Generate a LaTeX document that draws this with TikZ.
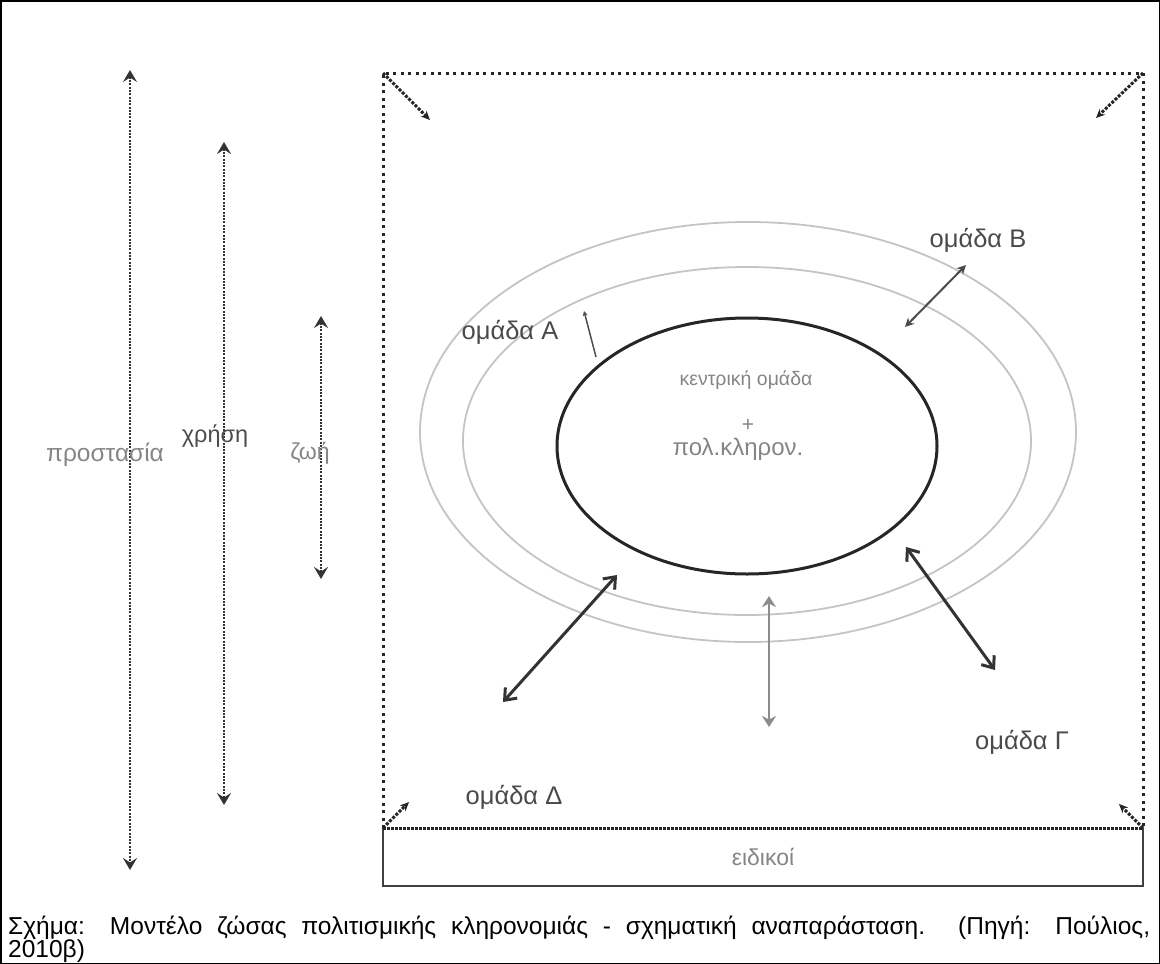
\documentclass[tikz,border=0pt]{standalone}
\usepackage{fontspec}
\setmainfont{Liberation Sans}
\usetikzlibrary{arrows.meta}
\definecolor{txtgray}{HTML}{858585}
\definecolor{txtdark}{HTML}{4A4A4A}
\definecolor{ringgray}{HTML}{C4C4C4}
\begin{document}
\begin{tikzpicture}[x=1pt,y=-1pt,
  frameline/.style={line width=3pt,dash pattern=on 3pt off 4.5pt,black!85},
  baseline/.style={line width=3pt,dash pattern=on 2.5pt off 1.5pt,black!85},
  cornerarrow/.style={line width=3pt,dash pattern=on 3pt off 1.5pt,black!85,-{Stealth[length=9pt,width=8pt]}},
  vertarrow/.style={line width=2.6pt,dash pattern=on 2pt off 1.3pt,black!80,{Stealth[length=12pt,width=14pt,inset=4.5pt]}-{Stealth[length=12pt,width=14pt,inset=4.5pt]}},
  thickarrow/.style={line width=3pt,black!80,{Straight Barb[length=10pt,width=16pt,line width=3pt]}-{Straight Barb[length=10pt,width=16pt,line width=3pt]}},
  thinarrow/.style={line width=2pt,black!70,{Stealth[length=9pt,width=9pt]}-{Stealth[length=9pt,width=9pt]}},
  grayarrow/.style={line width=2.8pt,black!45,{Stealth[length=11pt,width=14pt,inset=3.5pt]}-{Stealth[length=11pt,width=14pt,inset=3.5pt]}},
  lbl/.style={inner sep=0pt,font=\fontsize{25.5}{28}\selectfont,text=txtdark},
  glbl/.style={inner sep=0pt,text=txtgray},
  captxt/.style={anchor=base west,inner sep=0pt,font=\fontsize{24.5}{26}\selectfont}
]
\useasboundingbox (0,0) rectangle (1160,964);
% outer frame
\draw[line width=1.5pt] (0.75,0.75) rectangle (1159.25,963.25);

% dotted square
\coordinate (TL) at (383,73);
\coordinate (TR) at (1143,73);
\coordinate (BL) at (383,828);
\coordinate (BR) at (1143,828);
\draw[frameline] (BL) -- (TL) -- (TR) -- (BR);

% experts box
\draw[line width=2pt,black!75] (BL) -- (383,886) -- (1143,886) -- (BR);
\draw[baseline] (BL) -- (BR);
\node[glbl,font=\fontsize{23}{26}\selectfont] (eid) at (763,857) {ειδικοί};

% corner arrows
\coordinate (tla) at (430,120);
\coordinate (tra) at (1096,118);
\coordinate (bla) at (409,802);
\coordinate (bra) at (1119,804);
\draw[cornerarrow] (TL) -- (tla);
\draw[cornerarrow] (TR) -- (tra);
\draw[cornerarrow] (BL) -- (bla);
\draw[cornerarrow] (BR) -- (bra);

% left vertical arrows
\coordinate (p1) at (130,70);  \coordinate (p2) at (130,870);
\coordinate (c1) at (224,142); \coordinate (c2) at (224,805);
\coordinate (z1) at (321,316); \coordinate (z2) at (321,579);
\draw[vertarrow] (p1) -- (p2);
\draw[vertarrow] (c1) -- (c2);
\draw[vertarrow] (z1) -- (z2);
\node[glbl,font=\fontsize{24.5}{27}\selectfont] (prost) at (105,455) {προστασία};
\node[glbl,font=\fontsize{23.5}{26}\selectfont,text=black!70] (xrisi) at (215,436) {χρήση};
\node[glbl,font=\fontsize{23}{26}\selectfont] (zoi) at (310,453) {ζωή};

% ellipses
\draw[ringgray,line width=1.8pt] (748,432) ellipse [x radius=328,y radius=210];
\draw[ringgray,line width=1.8pt] (747,441) ellipse [x radius=284,y radius=174];
\draw[black!85,line width=3pt] (747,446) ellipse [x radius=190,y radius=128];

% centre texts
\node[glbl,font=\fontsize{19.5}{22}\selectfont] (kentr) at (746,380) {κεντρική ομάδα};
\node[glbl,font=\fontsize{21}{24}\selectfont] (plus) at (748,425) {+};
\node[glbl,font=\fontsize{24}{27}\selectfont] (pol) at (738,449) {πολ.κληρον.};

% group labels
\node[lbl] (gA) at (510,332) {ομάδα Α};
\node[lbl] (gB) at (978,240) {ομάδα Β};
\node[lbl] (gG) at (1022,742) {ομάδα Γ};
\node[lbl] (gD) at (514,797) {ομάδα Δ};

% arrows
\coordinate (a1) at (584,311); \coordinate (a2) at (596,357);
\draw[line width=1.5pt,black!70,-{Stealth[length=5pt,width=5pt]}] (a2) -- (a1);
\coordinate (b1) at (905,327); \coordinate (b2) at (966,265);
\draw[thinarrow] (b1) -- (b2);
\coordinate (d1) at (503,702); \coordinate (d2) at (617,575);
\draw[thickarrow] (d1) -- (d2);
\coordinate (m1) at (769,596); \coordinate (m2) at (769,727);
\draw[grayarrow] (m1) -- (m2);
\coordinate (g1) at (906,547); \coordinate (g2) at (995,670);
\draw[thickarrow] (g1) -- (g2);

% caption
\node[captxt] (cap1) at (8,934)
 {\makebox[1142pt][s]{Σχήμα: Μοντέλο ζώσας πολιτισμικής κληρονομιάς - σχηματική αναπαράσταση. (Πηγή: Πούλιος,}};
\node[captxt] (cap2) at (8,957) {2010β)};
\end{tikzpicture}
\end{document}
